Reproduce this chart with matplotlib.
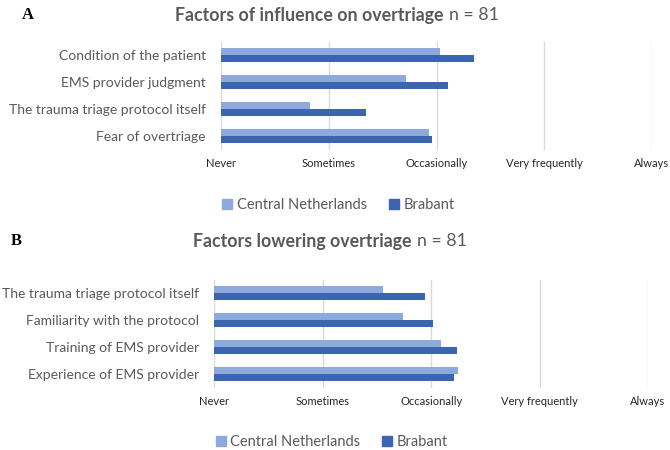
import matplotlib
matplotlib.use("Agg")
import matplotlib.pyplot as plt
import numpy as np
from matplotlib.patches import Patch
from matplotlib import font_manager

# ============================
# Data
# ============================

scale_labels = ["Never", "Sometimes", "Occasionally", "Very frequently", "Always"]
series_names = ["Central Netherlands", "Brabant"]

factors_a = ["Condition of the patient", "EMS provider judgment",
             "The trauma triage protocol itself", "Fear of overtriage"]
central_a = [3.03, 2.72, 1.83, 2.93]
brabant_a = [3.35, 3.11, 2.35, 2.96]

factors_b = ["The trauma triage protocol itself", "Familiarity with the protocol",
             "Training of EMS provider", "Experience of EMS provider"]
central_b = [2.56, 2.74, 3.09, 3.25]
brabant_b = [2.94, 3.02, 3.24, 3.21]

light = "#8EA9DB"
dark = "#3B64B1"
grey = "#595959"

label_font = ["Lato", "DejaVu Sans"]
names = {f.name for f in font_manager.fontManager.ttflist}
tick_font = ["Liberation Sans Narrow", "Lato"] if "Liberation Sans Narrow" in names else ["Lato"]

fig = plt.figure(figsize=(6.7, 4.5), dpi=100)


def panel(rect, factors, central, brabant):
    ax = fig.add_axes(rect)
    y = np.arange(len(factors))[::-1]
    h = 0.26
    ax.barh(y + h / 2, central, height=h, left=0, color=light, zorder=3)
    ax.barh(y - h / 2, brabant, height=h, left=0, color=dark, zorder=3)
    ax.set_xlim(1, 5)
    ax.set_ylim(-0.5, len(factors) - 0.5)
    ax.set_xticks(range(1, 6))
    ax.set_xticklabels(scale_labels, family=tick_font, fontsize=8, color="#262626")
    ax.set_yticks(y)
    ax.set_yticklabels(factors, family=label_font, fontsize=10, color=grey)
    ax.tick_params(axis="y", length=0, pad=11)
    ax.tick_params(axis="x", length=0, pad=6)
    ax.grid(axis="x", color="#D9D9D9", linewidth=1, zorder=0)
    for s in ax.spines.values():
        s.set_visible(False)
    return ax


panel([0.33, 0.667, 0.643, 0.24], factors_a, central_a, brabant_a)
panel([0.320, 0.138, 0.647, 0.24], factors_b, central_b, brabant_b)

fig.text(0.033, 0.966, "A", family="Liberation Serif", fontweight="bold",
         fontsize=12, va="center", ha="left")
fig.text(0.016, 0.464, "B", family="Liberation Serif", fontweight="bold",
         fontsize=12, va="center", ha="left")

renderer = fig.canvas.get_renderer()
for xx, yy, title in [(0.261, 0.966, "Factors of influence on overtriage"),
                      (0.288, 0.464, "Factors lowering overtriage")]:
    t = fig.text(xx, yy, title, family=label_font, fontweight="bold",
                 fontsize=12.8, color=grey, va="center", ha="left")
    bb = t.get_window_extent(renderer)
    x_end = bb.x1 / fig.bbox.width
    fig.text(x_end + 0.008, yy, "n = 81", family=label_font, fontsize=12.8,
             color=grey, va="center", ha="left")

handles = [Patch(color=light), Patch(color=dark)]
for yy, xx in [(0.545, 0.505), (0.018, 0.495)]:
    fig.legend(handles, series_names, loc="center", bbox_to_anchor=(xx, yy),
               ncol=2, frameon=False, prop={"family": label_font, "size": 10.5},
               labelcolor=grey, handlelength=0.7, handleheight=0.7,
               handletextpad=0.3, columnspacing=1.5)

fig.savefig("out.png", dpi=100)
